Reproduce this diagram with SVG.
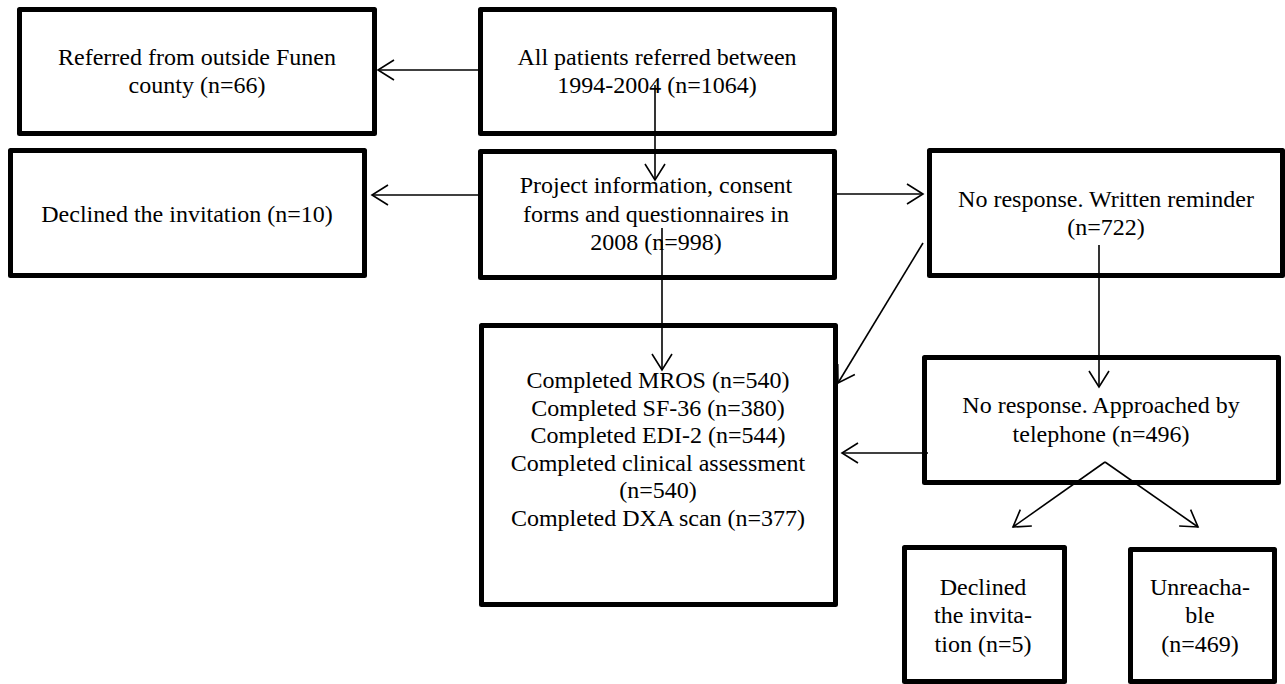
<svg xmlns="http://www.w3.org/2000/svg" width="1285" height="684" viewBox="0 0 1285 684">
<style>
.box{fill:#fff;stroke:#000;stroke-width:5;stroke-linejoin:round}
.t{font-family:"Liberation Serif","Times New Roman",serif;font-size:24px;fill:#000;text-anchor:middle}
.c{stroke:#000;stroke-width:1.6;fill:none;marker-end:url(#arr)}
</style>
<defs>
<marker id="arr" markerUnits="userSpaceOnUse" viewBox="-20 -12 22 24" markerWidth="22" markerHeight="24" refX="0" refY="0" orient="auto" overflow="visible">
<path d="M-16,-10 L0,0 L-16,10" fill="none" stroke="#000" stroke-width="1.6"/>
</marker>
</defs>
<rect width="1285" height="684" fill="#fff"/>
<g id="n1"><rect class="box" x="19.5" y="9.5" width="355" height="124"/>
<text class="t" x="197" y="65">Referred from outside Funen</text><text class="t" x="197" y="93">county (n=66)</text></g>
<g id="n2"><rect class="box" x="480.5" y="9.5" width="354" height="124"/>
<text class="t" x="657" y="65">All patients referred between</text><text class="t" x="657" y="93">1994-2004 (n=1064)</text></g>
<g id="n3"><rect class="box" x="10.5" y="150.5" width="354" height="125"/>
<text class="t" x="187" y="222">Declined the invitation (n=10)</text></g>
<g id="n4"><rect class="box" x="480.5" y="151.5" width="354" height="126"/>
<text class="t" x="656" y="193">Project information, consent</text><text class="t" x="656" y="222">forms and questionnaires in</text><text class="t" x="656" y="250">2008 (n=998)</text></g>
<g id="n5"><rect class="box" x="929.5" y="150.5" width="353" height="125"/>
<text class="t" x="1106" y="207">No response. Written reminder</text><text class="t" x="1106" y="235">(n=722)</text></g>
<g id="n6"><rect class="box" x="481.5" y="325.5" width="354" height="279"/>
<text class="t" x="658" y="388">Completed MROS (n=540)</text><text class="t" x="658" y="416">Completed SF-36 (n=380)</text><text class="t" x="658" y="443">Completed EDI-2 (n=544)</text><text class="t" x="658" y="471">Completed clinical assessment</text><text class="t" x="658" y="498">(n=540)</text><text class="t" x="658" y="526">Completed DXA scan (n=377)</text></g>
<g id="n7"><rect class="box" x="924.5" y="357.5" width="354" height="125"/>
<text class="t" x="1101" y="413">No response. Approached by</text><text class="t" x="1101" y="442">telephone (n=496)</text></g>
<g id="n8"><rect class="box" x="904.5" y="547.5" width="160" height="134"/>
<text class="t" x="983" y="595">Declined</text><text class="t" x="983" y="623">the invita-</text><text class="t" x="983" y="652">tion (n=5)</text></g>
<g id="n9"><rect class="box" x="1130.5" y="549.5" width="144" height="132"/>
<text class="t" x="1200" y="595">Unreacha-</text><text class="t" x="1200" y="623">ble</text><text class="t" x="1200" y="652">(n=469)</text></g>
<g id="connectors">
<line class="c" x1="478" y1="70" x2="378" y2="70"/>
<line class="c" x1="655" y1="85" x2="655" y2="180"/>
<line class="c" x1="478" y1="195" x2="372" y2="195"/>
<line class="c" x1="837" y1="194" x2="923" y2="194"/>
<line class="c" x1="662" y1="228" x2="662" y2="370"/>
<line class="c" x1="923" y1="243" x2="838" y2="383"/>
<line class="c" x1="1099" y1="245" x2="1099" y2="387"/>
<line class="c" x1="928" y1="453" x2="842" y2="453"/>
<line class="c" x1="1105" y1="462" x2="1013" y2="527"/>
<line class="c" x1="1105" y1="462" x2="1198" y2="527"/>
</g>
</svg>
